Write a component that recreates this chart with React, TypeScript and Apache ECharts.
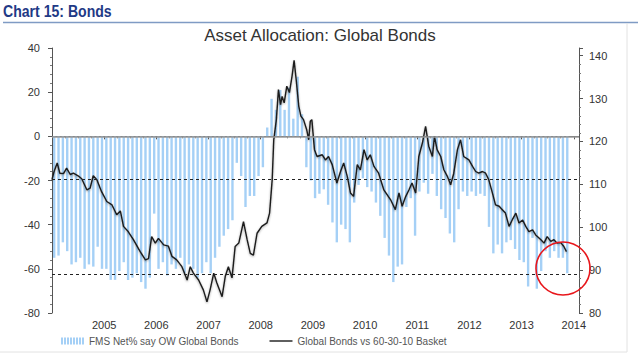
import React, { useEffect, useRef } from "react";
import * as echarts from "echarts";

// Monthly FMS survey: first month Jan 2004
const fmsStartYear = 2004;
const fmsNetOW = [
  -55, -54, -48, -52, -58, -57, -55, -60, -58, -59, -50, -60,
  -60, -65, -65, -61, -57, -65, -64, -62, -66, -69, -64, -35,
  -60, -57, -63, -58, -60, -55, -62, -58, -60, -64, -62, -57,
  -62, -55, -50, -45, -42, -38, -12, -18, -32, -27, -27, -18,
  -14, 4, 17, 12, 21, 12, 22, 8, 27, 10,
  -14, -20, -28, -26, -24, -31, -39, -48, -40, -42, -48, -30,
  -22, -19, -23, -25, -30, -36, -46, -54, -66, -59, -58, -32,
  -28, -45, -25, -21, -26, -17, -27, -33, -37, -44, -48, -33,
  -25, -27, -25, -27, -26, -27, -41, -53, -49, -53, -48, -47,
  -51, -56, -57, -68, -46, -69, -61, -52, -55, -52, -55, -55, -62,
];

// Global Bonds vs 60-30-10 basket (right axis), dates as fractional years
const basketDates = [
  2004.0, 2004.04, 2004.1, 2004.15, 2004.22, 2004.28, 2004.35, 2004.41, 2004.5, 2004.57,
  2004.67, 2004.73, 2004.79, 2004.86, 2004.95, 2005.05, 2005.15, 2005.24, 2005.31, 2005.37,
  2005.46, 2005.56, 2005.69, 2005.79, 2005.85, 2005.91, 2005.98, 2006.04, 2006.14, 2006.23,
  2006.3, 2006.39, 2006.49, 2006.59, 2006.65, 2006.71, 2006.81, 2006.9, 2006.97, 2007.03,
  2007.1, 2007.16, 2007.26, 2007.32, 2007.38, 2007.45, 2007.51, 2007.58, 2007.67, 2007.74,
  2007.8, 2007.86, 2007.93, 2008.02, 2008.12, 2008.17, 2008.22, 2008.25, 2008.3, 2008.34,
  2008.38, 2008.41, 2008.45, 2008.5, 2008.55, 2008.6, 2008.64, 2008.68, 2008.73, 2008.77,
  2008.82, 2008.88, 2008.92, 2008.95, 2008.98, 2009.03, 2009.08, 2009.18, 2009.24, 2009.3,
  2009.37, 2009.46, 2009.53, 2009.59, 2009.66, 2009.72, 2009.78, 2009.85, 2009.91, 2009.98,
  2010.04, 2010.1, 2010.17, 2010.26, 2010.36, 2010.49, 2010.58, 2010.65, 2010.71, 2010.78,
  2010.84, 2010.9, 2010.97, 2011.03, 2011.1, 2011.16, 2011.22, 2011.29, 2011.33, 2011.38,
  2011.45, 2011.51, 2011.58, 2011.64, 2011.7, 2011.77, 2011.83, 2011.89, 2011.99, 2012.06,
  2012.12, 2012.18, 2012.25, 2012.31, 2012.37, 2012.44, 2012.5, 2012.57, 2012.63, 2012.69,
  2012.76, 2012.82, 2012.89, 2012.95, 2013.02, 2013.08, 2013.14, 2013.21, 2013.27, 2013.37,
  2013.43, 2013.49, 2013.56, 2013.62, 2013.68, 2013.75, 2013.81, 2013.86,
];
const basketValues = [
  111.1, 113.0, 115.0, 112.6, 112.5, 113.8, 112.3, 112.6, 112.0, 111.3,
  108.7, 109.1, 112.0, 111.1, 108.3, 106.0, 105.2, 102.9, 103.8, 100.2,
  99.0, 97.1, 94.3, 92.4, 92.7, 97.8, 96.3, 97.4, 95.9, 95.6,
  93.2, 92.4, 90.8, 87.7, 90.8, 89.3, 87.7, 85.4, 82.6, 85.4,
  89.3, 87.0, 83.8, 88.5, 90.8, 88.2, 95.5, 96.3, 101.3, 97.1,
  93.9, 93.5, 98.6, 100.2, 101.0, 103.3, 111.1, 120.4, 125.1, 132.1,
  128.6, 130.5, 129.0, 132.9, 131.4, 135.2, 138.9, 134.4, 128.2, 125.9,
  125.1, 122.8, 120.4, 124.7, 125.1, 118.1, 116.5, 116.9, 115.7, 116.5,
  114.6, 110.3, 113.0, 115.0, 111.8, 108.0, 107.2, 114.6, 113.4, 118.1,
  115.7, 116.9, 114.2, 112.6, 108.7, 106.4, 104.1, 108.0, 104.9, 107.2,
  108.7, 110.3, 108.0, 116.5, 119.7, 123.5, 118.9, 116.5, 121.2, 118.1,
  116.5, 113.4, 111.8, 109.9, 112.6, 118.1, 120.4, 116.5, 115.7, 114.2,
  113.0, 112.6, 113.0, 112.6, 111.1, 108.0, 105.2, 104.9, 104.1, 103.3,
  100.2, 101.7, 103.3, 101.0, 101.7, 100.2, 99.0, 99.4, 98.2, 97.1,
  96.3, 97.8, 96.7, 97.1, 96.3, 96.4, 95.5, 94.3,
];

// Reference levels on the left axis
const zeroLevel = 0;
const upperBand = -19.5;
const lowerBand = -62.3;

const xYears = [2005, 2006, 2007, 2008, 2009, 2010, 2011, 2012, 2013, 2014];
const leftTicks = [-80, -60, -40, -20, 0, 20, 40];
const rightTicks = [80, 90, 100, 110, 120, 130, 140];

const barName = "FMS Net% say OW Global Bonds";
const lineName = "Global Bonds vs 60-30-10 Basket";

export default function App() {
  const ref = useRef<HTMLDivElement>(null);

  useEffect(() => {
    document.body.style.margin = "0";
    const chart = echarts.init(ref.current!, undefined, { renderer: "svg" });

    const barData = fmsNetOW.map((v, i) => [fmsStartYear + (i + 0.5) / 12, v]);
    const lineData = basketDates.map((d, i) => [d, basketValues[i]]);

    const stripeIcon =
      "path://M0,0h2v7h-2zM3,0h2v7h-2zM6,0h2v7h-2zM9,0h2v7h-2zM12,0h2v7h-2zM15,0h2v7h-2zM18,0h2v7h-2zM21,0h2v7h-2z";

    const option: any = {
      animation: false,
      backgroundColor: "#ffffff",
      textStyle: { fontFamily: "'Liberation Sans', Arial, sans-serif" },
      title: [
        {
          text: "Asset Allocation: Global Bonds",
          left: "center",
          top: 22,
          textStyle: {
            fontFamily: "'Liberation Sans', Arial, sans-serif",
            fontWeight: "normal",
            fontSize: 17,
            color: "#333333",
          },
        },
      ],
      graphic: [
        {
          type: "text",
          x: 3,
          y: 3,
          scaleX: 0.88,
          style: {
            text: "Chart 15: Bonds",
            font: "bold 16px 'Liberation Sans Narrow', 'Arial Narrow', 'Liberation Sans', sans-serif",
            fill: "#1f3a86",
          },
        },
        {
          type: "line",
          shape: { x1: 3, y1: 22.5, x2: 638, y2: 22.5 },
          style: { stroke: "#7f9bc4", lineWidth: 1.5 },
        },
        {
          type: "line",
          shape: { x1: 627, y1: 23, x2: 627, y2: 352 },
          style: { stroke: "#e2e2e2", lineWidth: 1 },
        },
        {
          type: "line",
          shape: { x1: 0, y1: 352, x2: 627, y2: 352 },
          style: { stroke: "#e2e2e2", lineWidth: 1 },
        },
        {
          type: "ellipse",
          shape: { cx: 563, cy: 268.5, rx: 27, ry: 26.5 },
          style: { fill: "none", stroke: "#e8161b", lineWidth: 1.6 },
          z: 100,
        },
      ],
      legend: {
        left: 56,
        top: 331,
        itemWidth: 23,
        itemHeight: 7,
        itemGap: 31,
        textStyle: { fontSize: 10, color: "#555555" },
        data: [
          { name: barName, icon: stripeIcon },
          { name: lineName, icon: "path://M0,0h23v1.4h-23z" },
        ],
      },
      grid: { left: 52, right: 61, top: 48, bottom: 45 },
      xAxis: {
        type: "value",
        min: 2004,
        max: 2014.1,
        interval: 1,
        axisLine: { lineStyle: { color: "#555555", width: 1 } },
        axisTick: { show: true, length: 3, lineStyle: { color: "#555555" } },
        minorTick: { show: true, splitNumber: 4, length: 2, lineStyle: { color: "#777777" } },
        splitLine: { show: false },
        axisLabel: {
          fontSize: 11,
          color: "#333333",
          margin: 6,
          showMinLabel: true,
          showMaxLabel: true,
          formatter: (v: number) => (xYears.indexOf(Math.round(v * 1000) / 1000) >= 0 ? String(v) : ""),
        },
      },
      yAxis: [
        {
          type: "value",
          position: "left",
          min: -80,
          max: 40,
          interval: 20,
          axisLine: { show: true, lineStyle: { color: "#555555", width: 1 } },
          axisTick: { show: true, length: 4, lineStyle: { color: "#555555" } },
          minorTick: { show: true, splitNumber: 5, length: 2, lineStyle: { color: "#777777" } },
          splitLine: { show: false },
          axisLabel: {
            fontSize: 11,
            color: "#333333",
            margin: 12,
            formatter: (v: number) => (leftTicks.indexOf(v) >= 0 ? String(v) : ""),
          },
        },
        {
          type: "value",
          position: "right",
          min: 80,
          max: 141.8,
          interval: 10,
          axisLine: { show: true, lineStyle: { color: "#555555", width: 1 } },
          axisTick: { show: true, length: 4, lineStyle: { color: "#555555" } },
          minorTick: { show: true, splitNumber: 5, length: 2, lineStyle: { color: "#777777" } },
          splitLine: { show: false },
          axisLabel: {
            fontSize: 11,
            color: "#333333",
            margin: 10,
            showMaxLabel: false,
            formatter: (v: number) => (rightTicks.indexOf(v) >= 0 ? String(v) : ""),
          },
        },
      ],
      series: [
        {
          name: barName,
          type: "bar",
          xAxisIndex: 0,
          yAxisIndex: 0,
          data: barData,
          barWidth: 2.4,
          itemStyle: { color: "#a5d0f6" },
          z: 2,
          markLine: {
            silent: true,
            symbol: "none",
            label: { show: false },
            data: [
              { yAxis: zeroLevel, lineStyle: { color: "#9a9a9a", type: "solid", width: 1.5 } },
              { yAxis: upperBand, lineStyle: { color: "#222222", type: [3, 3], width: 1 } },
              { yAxis: lowerBand, lineStyle: { color: "#222222", type: [3, 3], width: 1 } },
            ],
          },
        },
        {
          name: lineName,
          type: "line",
          xAxisIndex: 0,
          yAxisIndex: 1,
          data: lineData,
          showSymbol: false,
          symbol: "none",
          color: "#1b1b1b",
          itemStyle: { color: "#1b1b1b" },
          lineStyle: {
            color: "#1b1b1b",
            width: 1.4,
            shadowColor: "rgba(0,0,0,0.35)",
            shadowBlur: 2,
            shadowOffsetY: 1,
          },
          z: 4,
        },
      ],
    };

    chart.setOption(option);
    return () => chart.dispose();
  }, []);

  return (
    <div
      ref={ref}
      style={{ position: "absolute", left: 0, top: 0, width: 640, height: 358 }}
    />
  );
}
